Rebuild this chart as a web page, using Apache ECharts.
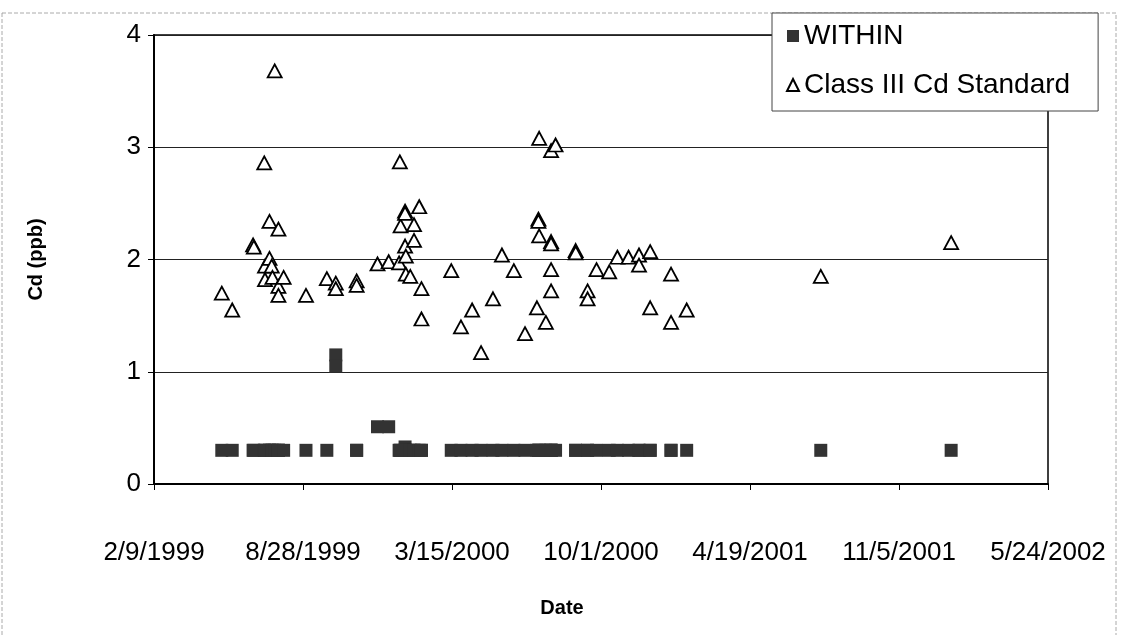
<!DOCTYPE html>
<html>
<head>
<meta charset="utf-8">
<script src="https://cdn.jsdelivr.net/npm/echarts@6/dist/echarts.min.js"></script>
<style>
	html, body { margin: 0; padding: 0; background: #fff; }
	#chart { width: 1125px; height: 635px; }
</style>
</head>
<body>
<div id="chart"></div>
<script>
// sample dates, one entry per sample (repeated dates = several samples that day)
var sampleDates = [
	'1999-05-11', '1999-05-25', '1999-06-22', '1999-06-23', '1999-07-07',
	'1999-07-08', '1999-07-08', '1999-07-14', '1999-07-14', '1999-07-17',
	'1999-07-18', '1999-07-21', '1999-07-26', '1999-07-26', '1999-07-26',
	'1999-08-02', '1999-09-01', '1999-09-29', '1999-10-11', '1999-10-11',
	'1999-11-08', '1999-11-08', '1999-12-06', '1999-12-21', '2000-01-04',
	'2000-01-05', '2000-01-06', '2000-01-12', '2000-01-12', '2000-01-12',
	'2000-01-13', '2000-01-13', '2000-01-19', '2000-01-24', '2000-01-24',
	'2000-01-31', '2000-02-03', '2000-02-03', '2000-03-14', '2000-03-27',
	'2000-04-11', '2000-04-23', '2000-05-09', '2000-05-21', '2000-06-06',
	'2000-06-21', '2000-07-07', '2000-07-09', '2000-07-09', '2000-07-10',
	'2000-07-10', '2000-07-19', '2000-07-26', '2000-07-26', '2000-07-26',
	'2000-07-26', '2000-07-26', '2000-08-01', '2000-08-28', '2000-08-28',
	'2000-09-13', '2000-09-13', '2000-09-25', '2000-10-12', '2000-10-23',
	'2000-11-07', '2000-11-21', '2000-11-21', '2000-12-06', '2000-12-06',
	'2001-01-03', '2001-01-03', '2001-01-24', '2001-07-23', '2002-01-14'
];
// measured Cd (ppb)
var withinValues = [
	0.3, 0.3, 0.3, 0.3, 0.3,
	0.3, 0.3, 0.3, 0.3, 0.3,
	0.3, 0.3, 0.3, 0.3, 0.3,
	0.3, 0.3, 0.3, 1.15, 1.05,
	0.3, 0.3, 0.51, 0.51, 0.3,
	0.3, 0.3, 0.3, 0.3, 0.33,
	0.3, 0.3, 0.3, 0.3, 0.3,
	0.3, 0.3, 0.3, 0.3, 0.3,
	0.3, 0.3, 0.3, 0.3, 0.3,
	0.3, 0.3, 0.3, 0.3, 0.3,
	0.3, 0.3, 0.3, 0.3, 0.3,
	0.3, 0.3, 0.3, 0.3, 0.3,
	0.3, 0.3, 0.3, 0.3, 0.3,
	0.3, 0.3, 0.3, 0.3, 0.3,
	0.3, 0.3, 0.3, 0.3, 0.3
];
// Class III standard (ppb)
var standardValues = [
	1.70, 1.55, 2.13, 2.11, 2.86,
	1.94, 1.82, 2.34, 2.01, 1.94,
	1.84, 3.68, 2.27, 1.76, 1.68,
	1.84, 1.68, 1.83, 1.79, 1.74,
	1.81, 1.77, 1.96, 1.98, 1.97,
	2.87, 2.30, 2.43, 2.41, 2.12,
	2.03, 1.87, 1.85, 2.31, 2.17,
	2.47, 1.74, 1.47, 1.90, 1.40,
	1.55, 1.17, 1.65, 2.04, 1.90,
	1.34, 1.57, 2.36, 2.34, 2.21,
	3.08, 1.44, 2.97, 2.16, 2.14,
	1.91, 1.72, 3.02, 2.08, 2.06,
	1.72, 1.65, 1.91, 1.89, 2.02,
	2.02, 2.04, 1.95, 2.07, 1.57,
	1.87, 1.44, 1.55, 1.85, 2.15
];
var xTickStart = '1999-02-09', xTickEnd = '2002-05-24', xTickStep = 200;
var yTicks = [0, 1, 2, 3, 4];

//日期 -> excel 序号
function toSerial(s) {
	var p = s.split('-');
	return Date.UTC(+p[0], +p[1] - 1, +p[2]) / 86400000 + 25569;
}
function fromSerial(v) {
	var d = new Date((v - 25569) * 86400000);
	return (d.getUTCMonth() + 1) + '/' + d.getUTCDate() + '/' + d.getUTCFullYear();
}

var withinData = [], standardData = [];
for (var i = 0; i < sampleDates.length; i++) {
	var x = toSerial(sampleDates[i]);
	withinData.push([x, withinValues[i]]);
	standardData.push([x, standardValues[i]]);
}

var font = '"Liberation Sans", Arial, sans-serif';
var chart = echarts.init(document.getElementById('chart'));
chart.setOption({
	animation: false,
	backgroundColor: '#fff',
	textStyle: { fontFamily: font, color: '#000' },
	graphic: [{
		type: 'rect',
		shape: { x: 2, y: 13, width: 1114, height: 640 },
		style: { fill: 'none', stroke: '#aaa', lineWidth: 1, lineDash: [4, 2] },
		silent: true
	}],
	grid: {
		left: 154, right: 77, top: 35, bottom: 151,
		show: true, borderColor: '#000', borderWidth: 1.5
	},
	legend: {
		orient: 'vertical',
		left: 772, top: 13,
		padding: [9, 28, 12, 14],
		itemGap: 21,
		itemWidth: 12, itemHeight: 12,
		backgroundColor: '#fff',
		borderColor: '#444', borderWidth: 1,
		textStyle: { fontSize: 28, fontFamily: font, color: '#000' },
		data: [
			{ name: 'WITHIN', icon: 'rect' },
			{ name: 'Class III Cd Standard', icon: 'triangle' }
		]
	},
	xAxis: {
		type: 'value',
		min: toSerial(xTickStart), max: toSerial(xTickEnd), interval: xTickStep,
		name: 'Date', nameLocation: 'middle', nameGap: 114,
		nameTextStyle: { fontSize: 20, fontWeight: 'bold', padding: [0, 78, 0, 0] },
		axisLine: { lineStyle: { color: '#000', width: 2 } },
		axisTick: { show: true, length: 6, lineStyle: { color: '#000' } },
		axisLabel: { fontSize: 26, color: '#000', margin: 56, formatter: fromSerial },
		splitLine: { show: false }
	},
	yAxis: {
		type: 'value',
		min: yTicks[0], max: yTicks[yTicks.length - 1], interval: 1,
		name: 'Cd (ppb)', nameLocation: 'middle', nameGap: 108, nameRotate: 90,
		nameTextStyle: { fontSize: 20, fontWeight: 'bold' },
		axisLine: { lineStyle: { color: '#000', width: 2 } },
		axisTick: { show: true, length: 6, lineStyle: { color: '#000' } },
		axisLabel: { fontSize: 26, color: '#000', margin: 13 },
		splitLine: { lineStyle: { color: '#222', width: 1 } }
	},
	series: [{
		name: 'WITHIN',
		type: 'scatter',
		symbol: 'rect',
		symbolSize: 13,
		itemStyle: { color: '#333', opacity: 1 },
		data: withinData
	}, {
		name: 'Class III Cd Standard',
		type: 'scatter',
		symbol: 'triangle',
		symbolSize: [14, 13],
		itemStyle: { color: '#fff', borderColor: '#000', borderWidth: 1.8, opacity: 1 },
		data: standardData
	}]
});
</script>
</body>
</html>
